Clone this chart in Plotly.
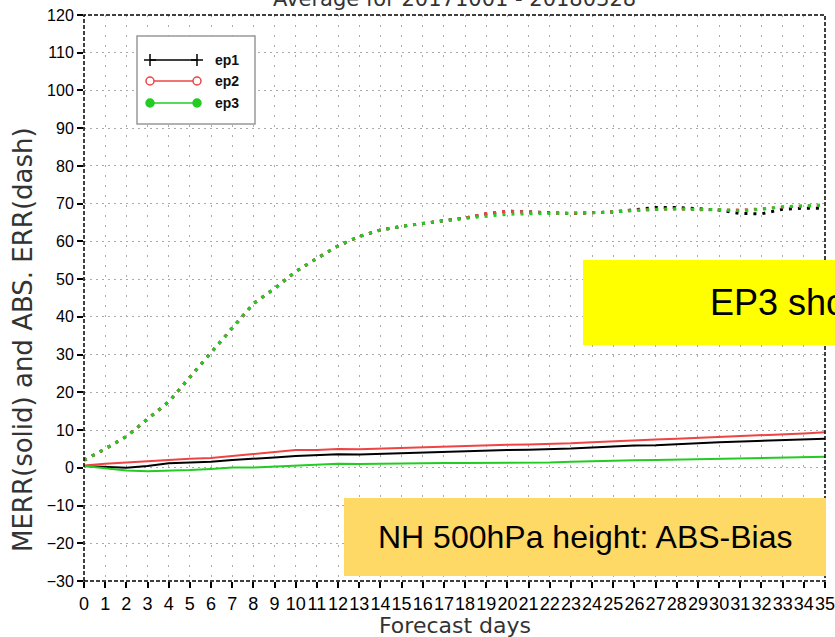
import plotly.graph_objects as go

# ---------------- data ----------------
days = list(range(0, 36))

# mean error (solid lines)
merr_ep1 = [0.5, 0.3, 0.0, 0.5, 1.2, 1.4, 1.6, 2.1, 2.3, 2.7, 3.1, 3.4, 3.6, 3.5, 3.7, 3.9, 4.0, 4.2,
            4.4, 4.5, 4.7, 4.8, 4.9, 5.1, 5.4, 5.7, 5.9, 6.0, 6.2, 6.5, 6.8, 7.0, 7.1, 7.3, 7.4, 7.7]
merr_ep2 = [0.6, 1.1, 1.4, 1.8, 2.1, 2.4, 2.6, 3.1, 3.6, 4.1, 4.7, 4.7, 5.0, 4.9, 5.1, 5.3, 5.5, 5.7,
            5.9, 6.0, 6.1, 6.2, 6.3, 6.5, 6.8, 7.1, 7.4, 7.5, 7.7, 7.9, 8.2, 8.5, 8.7, 8.9, 9.1, 9.4]
merr_ep3 = [0.5, -0.2, -0.7, -0.9, -0.8, -0.6, -0.3, 0.1, 0.1, 0.4, 0.7, 1.0, 1.1, 1.0, 1.1, 1.2, 1.2, 1.3,
            1.3, 1.3, 1.4, 1.4, 1.4, 1.6, 1.8, 1.9, 2.0, 2.1, 2.2, 2.3, 2.4, 2.5, 2.6, 2.7, 2.8, 2.9]

# absolute error (dotted lines)
abserr_ep1 = [2.0, 5.0, 8.3, 13.0, 17.5, 24.0, 30.5, 37.0, 43.5, 47.5, 52.0, 55.5, 58.8, 61.3, 63.0, 64.0,
              64.8, 65.5, 66.2, 67.3, 68.0, 67.9, 67.6, 67.4, 67.6, 67.8, 68.4, 69.0, 69.0, 68.6, 68.3,
              67.4, 67.3, 68.5, 68.8, 68.8]
abserr_ep2 = [2.0, 5.0, 8.3, 13.0, 17.5, 24.0, 30.5, 37.0, 43.5, 47.5, 52.0, 55.5, 58.8, 61.3, 63.0, 64.0,
              64.8, 65.5, 66.2, 67.4, 68.0, 67.8, 67.5, 67.4, 67.6, 67.8, 68.3, 68.5, 68.6, 68.4, 68.4,
              68.3, 68.6, 69.1, 69.4, 69.6]
abserr_ep3 = [2.0, 5.0, 8.3, 13.0, 17.5, 24.0, 30.5, 37.0, 43.5, 47.5, 52.0, 55.5, 58.8, 61.3, 63.0, 64.0,
              64.8, 65.5, 66.1, 66.6, 67.2, 67.3, 67.4, 67.4, 67.6, 67.8, 68.2, 68.5, 68.6, 68.5, 68.4,
              68.1, 68.5, 69.2, 69.4, 69.6]

series_names = ["ep1", "ep2", "ep3"]
colors = ["#000000", "#ee4444", "#22cc22"]

x_ticks = list(range(0, 36))
y_ticks = list(range(-30, 121, 10))

title_text = "Average for 20171001 - 20180328"
ytitle_text = "MERR(solid) and ABS. ERR(dash)"
xtitle_text = "Forecast days"
box1_text = "EP3 shows"
box2_text = "NH 500hPa height: ABS-Bias"

# ---------------- layout geometry (pixels) ----------------
W, H = 835, 637
L, R, T, B = 84, 825, 15, 581


def px(x):
    return (x - L) / (R - L)


def py(y):
    return (B - y) / (B - T)


fig = go.Figure()

for vals, c in zip([abserr_ep1, abserr_ep2, abserr_ep3], colors):
    fig.add_trace(go.Scatter(x=days, y=vals, mode="lines",
                             line=dict(color=c, width=3, dash="3px,6px"),
                             showlegend=False, hoverinfo="skip"))

for vals, c, n in zip([merr_ep1, merr_ep2, merr_ep3], colors, series_names):
    fig.add_trace(go.Scatter(x=days, y=vals, mode="lines", name=n,
                             line=dict(color=c, width=2), showlegend=False))

arial = "Liberation Sans, Arial, sans-serif"
light = "DejaVu Sans, sans-serif"

fig.update_xaxes(range=[0, 35], tickvals=x_ticks, ticktext=[str(v) for v in x_ticks], tickangle=0,
                 ticklabeloverflow="allow", automargin=False,
                 showgrid=True, gridcolor="#aaaaaa", gridwidth=1, griddash="2px,8px",
                 ticks="outside", ticklen=6, tickcolor="black", tickwidth=1.5,
                 tickfont=dict(family=arial, size=18, color="black"),
                 showline=False, zeroline=False, fixedrange=True)
fig.update_yaxes(range=[-30, 120], tickvals=y_ticks, ticklabeloverflow="allow", automargin=False,
                 showgrid=True, gridcolor="#aaaaaa", gridwidth=1, griddash="2px,4px",
                 ticks="outside", ticklen=6, tickcolor="black", tickwidth=1.5,
                 tickfont=dict(family=arial, size=16, color="black"),
                 showline=False, zeroline=False, fixedrange=True)

shapes = []
# dashed frame
shapes.append(dict(type="rect", xref="paper", yref="paper", x0=0, x1=1, y0=0, y1=1,
                   line=dict(color="black", width=1.5, dash="4px,2px"), layer="above"))

# legend box
shapes.append(dict(type="rect", xref="paper", yref="paper", x0=px(137), x1=px(255), y0=py(124), y1=py(36),
                   line=dict(color="#999999", width=1.5), fillcolor="white", layer="above"))
leg_y = [60, 81, 103]
for i, (c, yy) in enumerate(zip(colors, leg_y)):
    shapes.append(dict(type="line", xref="paper", yref="paper", x0=px(150), x1=px(197), y0=py(yy), y1=py(yy),
                       line=dict(color=c, width=1.5), layer="above"))
    for cx in (150, 197):
        if i == 0:
            shapes.append(dict(type="line", xref="paper", yref="paper", x0=px(cx - 6), x1=px(cx + 6),
                               y0=py(yy), y1=py(yy), line=dict(color=c, width=1.5), layer="above"))
            shapes.append(dict(type="line", xref="paper", yref="paper", x0=px(cx), x1=px(cx),
                               y0=py(yy - 6), y1=py(yy + 6), line=dict(color=c, width=1.5), layer="above"))
        else:
            shapes.append(dict(type="circle", xref="paper", yref="paper",
                               xsizemode="pixel", ysizemode="pixel", xanchor=px(cx), yanchor=py(yy),
                               x0=-4, x1=4, y0=-4, y1=4,
                               line=dict(color=c, width=1.5),
                               fillcolor=("white" if i == 1 else c), layer="above"))

# highlight boxes
shapes.append(dict(type="rect", xref="paper", yref="paper", x0=px(583), x1=px(845), y0=py(345), y1=py(260),
                   line=dict(width=0), fillcolor="#ffff00", layer="above"))
shapes.append(dict(type="rect", xref="paper", yref="paper", x0=px(344), x1=px(826), y0=py(576), y1=py(498),
                   line=dict(width=0), fillcolor="#ffd966", layer="above"))

annotations = []
for n, yy in zip(series_names, leg_y):
    annotations.append(dict(x=px(213), y=py(yy), xref="paper", yref="paper", text=n, showarrow=False,
                            xanchor="left", yanchor="middle",
                            font=dict(family=arial, size=14, color="#111111", weight="bold")))
annotations.append(dict(x=px(455), y=py(13), xref="paper", yref="paper", text=title_text, showarrow=False,
                        xanchor="center", yanchor="bottom",
                        font=dict(family=light, size=21, color="#333333")))
annotations.append(dict(x=px(23), y=py(340), xref="paper", yref="paper", text=ytitle_text, showarrow=False,
                        xanchor="center", yanchor="middle", textangle=-90,
                        font=dict(family=light, size=26, color="#333333")))
annotations.append(dict(x=px(455), y=py(625), xref="paper", yref="paper", text=xtitle_text, showarrow=False,
                        xanchor="center", yanchor="middle",
                        font=dict(family=light, size=22, color="#333333")))
annotations.append(dict(x=px(708), y=py(302), xref="paper", yref="paper", text=box1_text, showarrow=False,
                        xanchor="left", yanchor="middle",
                        font=dict(family=arial, size=36, color="black")))
annotations.append(dict(x=px(585), y=py(537), xref="paper", yref="paper", text=box2_text, showarrow=False,
                        xanchor="center", yanchor="middle",
                        font=dict(family=arial, size=32, color="black")))

fig.update_layout(width=W, height=H, margin=dict(l=L, r=W - R, t=T, b=H - B, autoexpand=False),
                  paper_bgcolor="white", plot_bgcolor="white",
                  shapes=shapes, annotations=annotations, showlegend=False)

fig.write_html("out.html", config={"displayModeBar": False})
